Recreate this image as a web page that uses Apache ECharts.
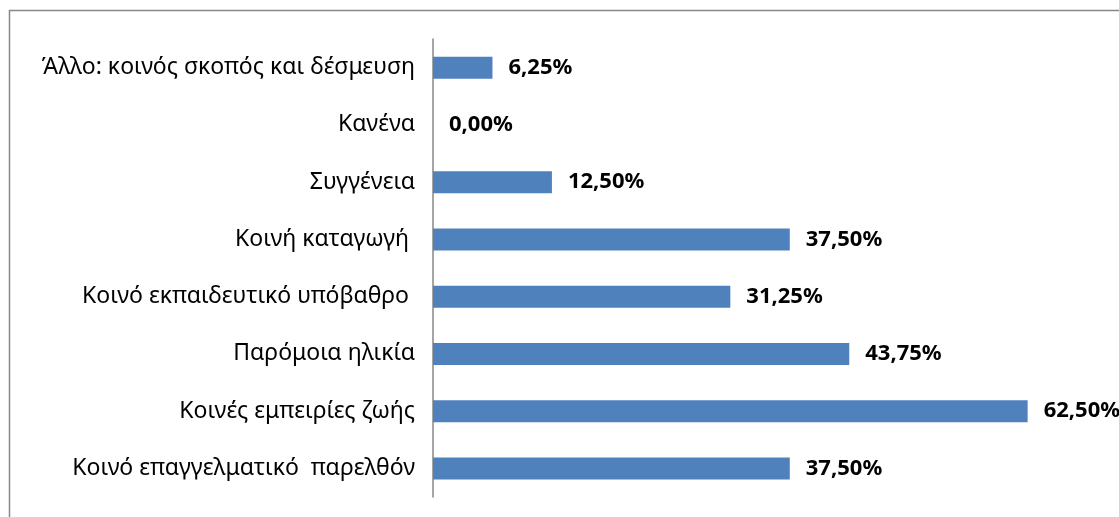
<!DOCTYPE html>
<html>
<head>
<meta charset="utf-8">
<script src="https://cdn.jsdelivr.net/npm/echarts@6/dist/echarts.min.js"></script>
<style>
  html, body { margin: 0; padding: 0; background: #fff; }
  #main { width: 1119px; height: 517px; }
</style>
</head>
<body>
<div id="main"></div>
<script>
// categories from top to bottom
var categories = [
  'Άλλο: κοινός σκοπός και δέσμευση',
  'Κανένα',
  'Συγγένεια',
  'Κοινή καταγωγή ',
  'Κοινό εκπαιδευτικό υπόβαθρο ',
  'Παρόμοια ηλικία',
  'Κοινές εμπειρίες ζωής',
  'Κοινό επαγγελματικό  παρελθόν'
];
var values = [6.25, 0, 12.5, 37.5, 31.25, 43.75, 62.5, 37.5];

var chart = echarts.init(document.getElementById('main'));
var option = {
  animation: false,
  graphic: [{
    type: 'rect',
    shape: { x: 9.5, y: 10.5, width: 1120, height: 520 },
    style: { fill: 'none', stroke: '#878787', lineWidth: 1.5 },
    silent: true
  }],
  grid: { left: 433, top: 39, width: 666, height: 458 },
  xAxis: {
    type: 'value',
    min: 0,
    max: 70,
    show: false
  },
  yAxis: {
    type: 'category',
    data: categories,
    inverse: true,
    axisLine: { lineStyle: { color: '#878787', width: 1.5 } },
    axisTick: { show: false },
    axisLabel: {
      margin: 18,
      color: '#000',
      fontFamily: 'Noto Sans',
      fontSize: 23
    }
  },
  series: [{
    type: 'bar',
    data: values,
    barWidth: 22,
    itemStyle: { color: '#4F81BD' },
    label: {
      show: true,
      position: 'right',
      distance: 16,
      color: '#000',
      fontFamily: 'Noto Sans',
      fontWeight: 'bold',
      fontSize: 22,
      formatter: function (p) {
        return p.value.toFixed(2).replace('.', ',') + '%';
      }
    }
  }]
};
chart.setOption(option);
</script>
</body>
</html>
